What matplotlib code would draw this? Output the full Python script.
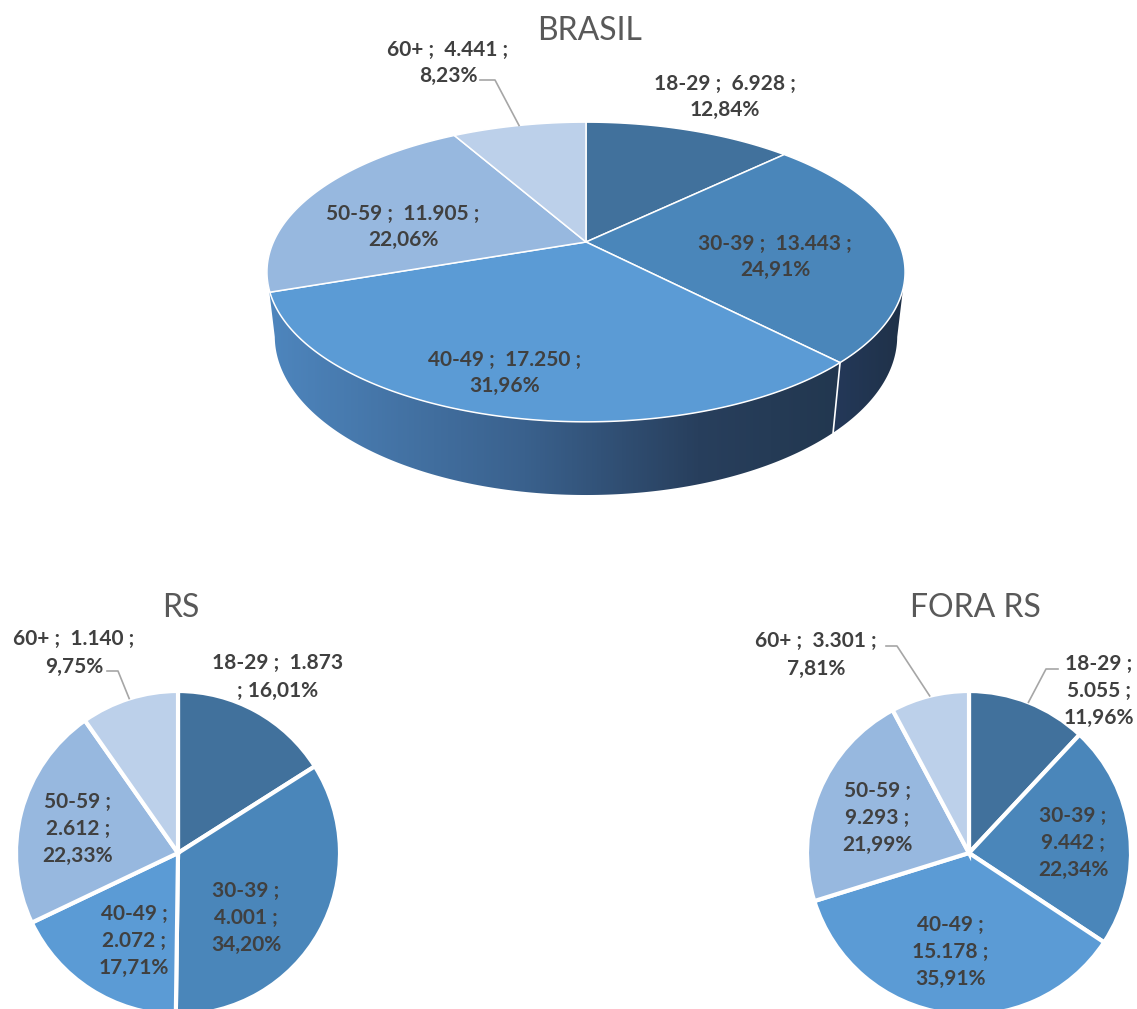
import numpy as np
import matplotlib
matplotlib.use('Agg')
import matplotlib.pyplot as plt
from matplotlib.patches import Polygon
from matplotlib.colors import LinearSegmentedColormap

# ---------------- data ----------------
categories = ['18-29', '30-39', '40-49', '50-59', '60+']
brasil_values = [6928, 13443, 17250, 11905, 4441]
rs_values = [1873, 4001, 2072, 2612, 1140]
fora_rs_values = [5055, 9442, 15178, 9293, 3301]
titles = ['BRASIL', 'RS', 'FORA RS']

# ---------------- style ----------------
colors = ['#41719C', '#4A86BA', '#5B9BD5', '#97B8DF', '#BCD0EA']
label_color = '#404040'
title_color = '#595959'
leader_color = '#A6A6A6'
LABEL_FONT = ['Lato', 'DejaVu Sans']
TITLE_FONT = ['Lato', 'DejaVu Sans']

W, H = 1137, 1009
fig = plt.figure(figsize=(W / 100, H / 100), dpi=100)
ax = fig.add_axes([0, 0, 1, 1])


def Y(y):
    return H - y


def fmt_int(v):
    return f'{v:,}'.replace(',', '.')


def fmt_pct(p):
    return f'{p:.2f}%'.replace('.', ',')


def make_labels(values, templates):
    tot = sum(values)
    return [t.format(c=c, v=fmt_int(v), p=fmt_pct(100 * v / tot))
            for c, v, t in zip(categories, values, templates)]


def put_labels(texts, positions, size, spacing):
    for t, (x, y) in zip(texts, positions):
        ax.text(x, Y(y), t, ha='center', va='center', fontsize=size,
                fontweight='bold', color=label_color, family=LABEL_FONT,
                linespacing=spacing, multialignment='center', zorder=10)


# ---------------- BRASIL (3D pie) ----------------
cx3, cy3 = 586, 242
el = np.deg2rad(27.4)
s_e, c_e = np.sin(el), np.cos(el)
Dd = 5 * c_e
foc = 1563 * c_e
thick = 0.233


def proj(phi, z=0.0, r=1.0):
    x = r * np.sin(phi)
    yy = r * np.cos(phi)
    v = yy * s_e + z * c_e
    w = yy * c_e - z * s_e
    k = foc / (Dd + w)
    return cx3 + x * k, Y(cy3 - v * k)


tot_b = sum(brasil_values)
cum = np.concatenate([[0], np.cumsum(brasil_values)]) / tot_b * 2 * np.pi
phi_r = np.arccos(-0.2)
phi_l = 2 * np.pi - phi_r

# visible side pieces: (start angle, end angle, colormap)
side_pieces = [
    (max(cum[1], phi_r), cum[2],
     LinearSegmentedColormap.from_list('s1', ['#24395A', '#1F3147'])),
    (cum[2], phi_l,
     LinearSegmentedColormap.from_list('s2', [(0, '#4E86BE'), (0.45, '#3A618D'),
                                              (0.75, '#283F5D'), (1, '#22374F')])),
]

for lo, hi, cmap in side_pieces:
    ph = np.linspace(lo, hi, 160)
    tx, ty = proj(ph, 0.0)
    bx, by = proj(ph[::-1], -thick)
    verts = np.column_stack([np.concatenate([tx, bx]), np.concatenate([ty, by])])
    poly = Polygon(verts, closed=True, facecolor='none', edgecolor='none')
    ax.add_patch(poly)
    x0, x1 = verts[:, 0].min(), verts[:, 0].max()
    y0, y1 = verts[:, 1].min(), verts[:, 1].max()
    grad = np.linspace(0, 1, 256)[None, :]
    im = ax.imshow(grad, cmap=cmap, extent=[x0 - 2, x1 + 2, y0 - 2, y1 + 2],
                   aspect='auto', origin='lower', zorder=1, interpolation='nearest')
    im.set_clip_path(poly)

# white vertical seam on the side between the 40-49 and 30-39 slices
b = cum[2]
xa, ya = proj(b, 0.0)
xb, yb = proj(b, -thick)
ax.plot([xa, xb], [ya, yb], color='white', lw=1.2, zorder=2)

for i in range(len(brasil_values)):
    ph = np.linspace(cum[i], cum[i + 1], 200)
    ax_, ay_ = proj(ph, 0.0)
    apx, apy = proj(0.0, 0.0, 0.0)
    verts = np.column_stack([np.concatenate([[apx], ax_]), np.concatenate([[apy], ay_])])
    ax.add_patch(Polygon(verts, closed=True, facecolor=colors[i], edgecolor='white',
                         lw=1.1, joinstyle='round', zorder=3))

brasil_templates = ['{c} ;  {v} ;\n{p}'] * 5
brasil_pos = [(725, 97), (775, 257), (505, 373), (403, 227), (448, 63)]
put_labels(make_labels(brasil_values, brasil_templates), brasil_pos, 15, 1.35)

# leader for 60+
mid = (cum[4] + cum[5]) / 2
ex, ey = proj(mid, 0.0)
ax.plot([480, 495, ex], [Y(80), Y(80), ey], color=leader_color, lw=1.2, zorder=9)

ax.text(590, Y(31), titles[0], ha='center', va='center', fontsize=23,
        color=title_color, family=TITLE_FONT)

# ---------------- RS & FORA RS (2D pies) ----------------
R2 = 162


def flat_pie(values, cx, cy):
    ax.pie(values, colors=colors, startangle=90, counterclock=False,
           center=(cx, Y(cy)), radius=R2,
           wedgeprops=dict(edgecolor='white', linewidth=3, joinstyle='miter'))
    tot = sum(values)
    c2 = np.concatenate([[0], np.cumsum(values)]) / tot * 2 * np.pi
    mids = (c2[:-1] + c2[1:]) / 2
    return [(cx + R2 * np.sin(m), Y(cy) + R2 * np.cos(m)) for m in mids]


# RS
rs_c = (178, 853)
rs_edges = flat_pie(rs_values, *rs_c)
rs_templates = ['{c} ;  {v}\n; {p}', '{c} ;\n{v} ;\n{p}', '{c} ;\n{v} ;\n{p}',
                '{c} ;\n{v} ;\n{p}', '{c} ;  {v} ;\n{p}']
rs_pos = [(278, 677), (246, 918), (134, 941), (78, 829), (74, 653)]
put_labels(make_labels(rs_values, rs_templates), rs_pos, 15, 1.45)
ex, ey = rs_edges[4]
ax.plot([107, 118, ex], [Y(671), Y(671), ey], color=leader_color, lw=1.2, zorder=9)
ax.text(181, Y(608), titles[1], ha='center', va='center', fontsize=23,
        color=title_color, family=TITLE_FONT)

# FORA RS
fo_c = (969, 853)
fo_edges = flat_pie(fora_rs_values, *fo_c)
fo_templates = ['{c} ;\n{v} ;\n{p}', '{c} ;\n{v} ;\n{p}', '{c} ;\n{v} ;\n{p}',
                '{c} ;\n{v} ;\n{p}', '{c} ;  {v} ;\n{p}']
fo_pos = [(1099, 691), (1073, 843), (950, 952), (877, 818), (816, 655)]
put_labels(make_labels(fora_rs_values, fo_templates), fo_pos, 15, 1.45)
ex, ey = fo_edges[4]
ax.plot([886, 897, ex], [Y(646), Y(646), ey], color=leader_color, lw=1.2, zorder=9)
ex, ey = fo_edges[0]
ax.plot([1058, 1046, ex], [Y(669), Y(669), ey], color=leader_color, lw=1.2, zorder=9)
ax.text(975, Y(608), titles[2], ha='center', va='center', fontsize=23,
        color=title_color, family=TITLE_FONT)

ax.set_xlim(0, W)
ax.set_ylim(0, H)
ax.set_aspect('auto')
ax.axis('off')
fig.savefig('out.png', dpi=100, facecolor='white')
